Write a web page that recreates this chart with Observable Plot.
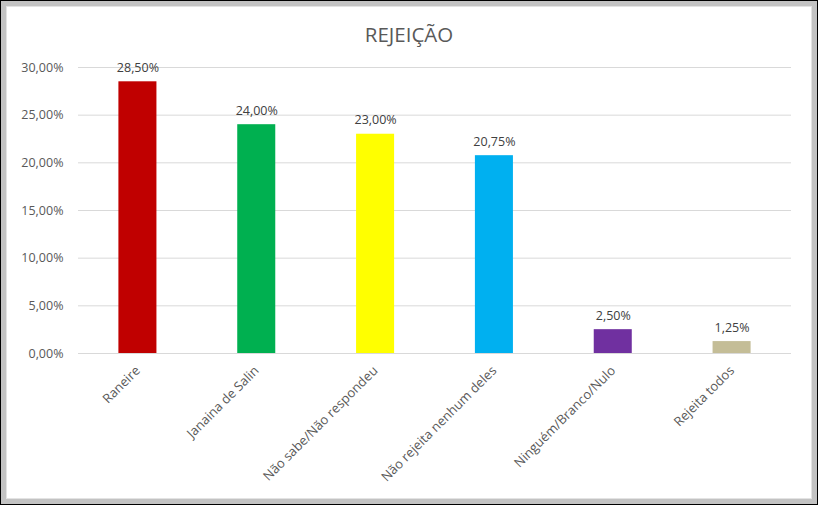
<!DOCTYPE html>
<html>
<head>
<meta charset="utf-8">
<script src="https://cdn.jsdelivr.net/npm/d3@7"></script>
<script src="https://cdn.jsdelivr.net/npm/@observablehq/plot@0.6"></script>
<style>
  html, body { margin: 0; padding: 0; background: #fff; }
  body { width: 826px; height: 509px; position: relative; overflow: hidden; font-family: "Open Sans", sans-serif; }
  #frame { position: absolute; left: 0; top: 0; width: 816px; height: 503px; border: 1px solid #000; }
  #frame2 { position: absolute; left: 0; top: 0; right: 0; bottom: 0; border: 5px solid #c3c3c3; }
  #frame3 { position: absolute; left: 0; top: 0; right: 0; bottom: 0; border: 1px solid #e3e3e3; background: #fff; }
  #title { position: absolute; left: 0; width: 818px; top: 20px; text-align: center; font-size: 20.5px; color: #595959; }
  #chart { position: absolute; left: 0; top: 50px; }
</style>
</head>
<body>
<div id="frame"><div id="frame2"><div id="frame3"></div></div></div>
<div id="title">REJEIÇÃO</div>
<div id="chart"></div>
<script>
const categories = ["Raneire", "Janaina de Salin", "Não sabe/Não respondeu", "Não rejeita nenhum deles", "Ninguém/Branco/Nulo", "Rejeita todos"];
const values = [28.50, 24.00, 23.00, 20.75, 2.50, 1.25];
const colors = ["#C00000", "#00B050", "#FFFF00", "#00B0F0", "#7030A0", "#C4BD97"];
const yTicks = [0, 5, 10, 15, 20, 25, 30];

const data = categories.map((c, i) => ({cat: c, value: values[i], color: colors[i]}));
const fmt = v => v.toFixed(2).replace(".", ",") + "%";

const plot = Plot.plot({
  width: 826,
  height: 440,
  marginLeft: 78,
  marginRight: 35,
  marginTop: 17,
  marginBottom: 137,
  style: { fontFamily: "Open Sans, sans-serif", fontSize: "12px", color: "#595959", background: "transparent" },
  x: { domain: categories, paddingInner: 0.68, paddingOuter: 0.34, round: false, label: null },
  y: { domain: [0, 30], label: null },
  marks: [
    Plot.gridY(yTicks, { stroke: "#d9d9d9", strokeOpacity: 1 }),
    Plot.barY(data, { x: "cat", y: "value", fill: "color" }),
    Plot.text(data, { x: "cat", y: "value", text: d => fmt(d.value), dy: -10, lineAnchor: "bottom", fill: "#404040", fontSize: 12.5 }),
    Plot.axisY(yTicks, { tickSize: 0, tickPadding: 15, tickFormat: fmt, fill: "#595959", fontSize: 12.5 }),
    Plot.axisX({ tickSize: 0, tickPadding: 15, tickRotate: -45, fill: "#595959", fontSize: 13 })
  ]
});
document.getElementById("chart").appendChild(plot);
</script>
</body>
</html>
